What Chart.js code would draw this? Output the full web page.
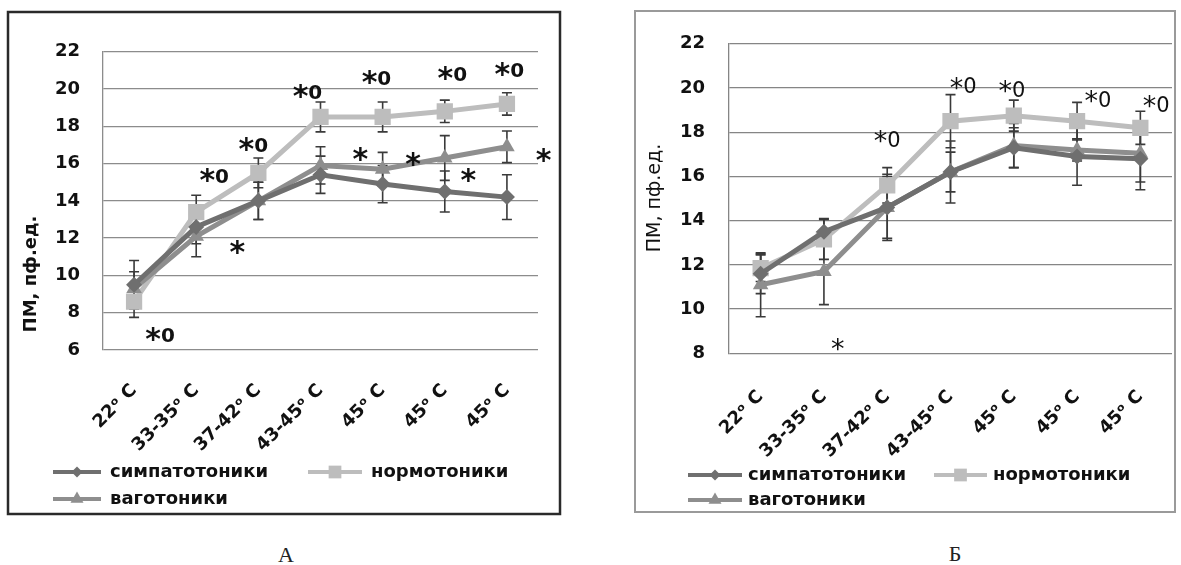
<!DOCTYPE html>
<html lang="ru">
<head>
<meta charset="utf-8">
<title>ПМ, пф.ед.</title>
<script src="https://cdn.jsdelivr.net/npm/chart.js@4.4.1/dist/chart.umd.min.js"></script>
<style>
  html, body { margin: 0; padding: 0; background: #fff; }
  body { width: 1181px; height: 565px; position: relative; overflow: hidden; }
  canvas { position: absolute; }
  #chartA { left: 6px; top: 10px; }
  #chartB { left: 633px; top: 9px; }
  .caption {
    position: absolute;
    font-family: "Liberation Serif", "DejaVu Serif", serif;
    font-size: 22px;
    color: #222;
    transform: translate(-50%, -50%);
  }
</style>
</head>
<body>
<canvas id="chartA" width="556" height="506"></canvas>
<canvas id="chartB" width="544" height="505"></canvas>
<div class="caption" style="left:286px; top:555px;">А</div>
<div class="caption" style="left:955px; top:554px;">Б</div>

<script>
// Categories and series names
const categories = ['22ᵒ C', '33-35ᵒ C', '37-42ᵒ C', '43-45ᵒ C', '45ᵒ C', '45ᵒ C', '45ᵒ C'];
const seriesNames = ['симпатотоники', 'нормотоники', 'ваготоники'];
const axisTitle = 'ПМ, пф.ед.';

// Chart A values (mean and error)
const simpA = [9.5, 12.6, 14.0, 15.4, 14.9, 14.5, 14.2];
const simpErrA = [1.3, 0.9, 1.0, 1.0, 1.0, 1.1, 1.2];
const normA = [8.6, 13.4, 15.5, 18.5, 18.5, 18.8, 19.2];
const normErrA = [0.85, 0.9, 0.8, 0.8, 0.8, 0.6, 0.6];
const vagoA = [9.3, 12.1, 14.0, 15.9, 15.7, 16.3, 16.9];
const vagoErrA = [0.9, 1.1, 1.0, 1.0, 0.9, 1.2, 0.85];
const yMinA = 6, yMaxA = 22;

// Chart A significance marks (category index, value)
const markTextA = ['*0', '*0', '*0', '*0', '*0', '*0', '*0', '*', '*', '*', '*', '*'];
const markIdxA = [0.42, 1.29, 1.92, 2.79, 3.9, 5.12, 6.04, 1.66, 3.64, 4.49, 6.59, 5.38];
const markValA = [6.8, 15.33, 17.0, 19.84, 20.59, 20.8, 21.02, 11.47, 16.46, 16.19, 16.4, 15.33];

// Chart Б values (mean and error)
const simpB = [11.6, 13.5, 14.6, 16.2, 17.3, 16.9, 16.8];
const simpErrB = [0.9, 0.6, 1.4, 1.4, 0.9, 1.3, 1.4];
const normB = [11.85, 13.15, 15.6, 18.5, 18.75, 18.5, 18.2];
const normErrB = [0.6, 0.9, 0.8, 1.2, 0.7, 0.85, 0.75];
const vagoB = [11.1, 11.7, 14.6, 16.2, 17.4, 17.2, 17.05];
const vagoErrB = [1.45, 1.5, 1.5, 0.9, 1.0, 0.5, 1.3];
const yMinB = 8, yMaxB = 22;

// Chart Б significance marks
const markTextB = ['*', '*0', '*0', '*0', '*0', '*0'];
const markIdxB = [1.22, 2.0, 3.2, 3.97, 5.33, 6.25];
const markValB = [8.29, 17.7, 20.1, 19.95, 19.5, 19.28];

// Colours
const colSimp = '#6f6f6f';
const colNorm = '#bdbdbd';
const colVago = '#8e8e8e';

// Draw "*0" style mark with a big centred star
function drawMark(ctx, text, x, y, m) {
  const starFont = m.weight + ' ' + m.starSize + 'px "DejaVu Sans"';
  const textFont = m.weight + ' ' + m.size + 'px "DejaVu Sans"';
  const parts = text.split('');
  let total = 0;
  const widths = parts.map(ch => {
    ctx.font = ch === '*' ? starFont : textFont;
    const w = ctx.measureText(ch).width;
    total += w;
    return w;
  });
  let cx = x - total / 2;
  ctx.textAlign = 'left';
  ctx.textBaseline = 'alphabetic';
  parts.forEach((ch, i) => {
    if (ch === '*') {
      ctx.font = starFont;
      ctx.fillText(ch, cx, y + m.starShift * m.starSize);
    } else {
      ctx.font = textFont;
      ctx.fillText(ch, cx, y + 0.365 * m.size);
    }
    cx += widths[i];
  });
}

// Plugin: error bars, marks, legend, axis title and frame
const extrasPlugin = {
  id: 'extras',
  beforeDatasetsDraw(chart, args, opts) {
    const ctx = chart.ctx;
    const xs = chart.scales.x, ys = chart.scales.y;
    ctx.save();
    ctx.strokeStyle = '#3a3a3a';
    ctx.lineWidth = 1.6;
    opts.errors.forEach((errs, di) => {
      const vals = chart.data.datasets[di].data;
      errs.forEach((e, i) => {
        const x = xs.getPixelForValue(i);
        const y1 = ys.getPixelForValue(vals[i] + e);
        const y2 = ys.getPixelForValue(vals[i] - e);
        ctx.beginPath();
        ctx.moveTo(x, y1); ctx.lineTo(x, y2);
        ctx.moveTo(x - 5, y1); ctx.lineTo(x + 5, y1);
        ctx.moveTo(x - 5, y2); ctx.lineTo(x + 5, y2);
        ctx.stroke();
      });
    });
    ctx.restore();
  },
  afterDatasetsDraw(chart, args, opts) {
    const ctx = chart.ctx;
    const xs = chart.scales.x, ys = chart.scales.y;
    ctx.save();
    ctx.fillStyle = '#111';
    opts.markText.forEach((t, i) => {
      drawMark(ctx, t, xs.getPixelForValue(opts.markIdx[i]), ys.getPixelForValue(opts.markVal[i]), opts.mark);
    });
    ctx.restore();
  },
  afterDraw(chart, args, opts) {
    const ctx = chart.ctx;
    ctx.save();
    // legend
    const L = opts.legend;
    chart.data.datasets.forEach((ds, i) => {
      const it = L.items[i];
      const cy = it.y;
      ctx.strokeStyle = ds.borderColor;
      ctx.lineWidth = 4;
      ctx.beginPath();
      ctx.moveTo(it.x1, cy); ctx.lineTo(it.x2, cy);
      ctx.stroke();
      ctx.fillStyle = ds.backgroundColor;
      Chart.helpers.drawPoint(ctx, {
        pointStyle: ds.pointStyle, radius: L.radius[i], rotation: 0, borderWidth: 0
      }, (it.x1 + it.x2) / 2, cy);
      ctx.fillStyle = '#111';
      ctx.font = L.font;
      ctx.textAlign = 'left';
      ctx.textBaseline = 'middle';
      ctx.fillText(ds.label, it.x2 + L.gap, cy);
    });
    // y axis title
    ctx.translate(opts.title.x, opts.title.y);
    ctx.rotate(-Math.PI / 2);
    ctx.font = opts.title.font;
    ctx.fillStyle = '#111';
    ctx.textAlign = 'center';
    ctx.textBaseline = 'middle';
    ctx.fillText(axisTitle, 0, 0);
    ctx.restore();
    // frame
    ctx.save();
    ctx.strokeStyle = opts.frame.color;
    ctx.lineWidth = opts.frame.width;
    ctx.strokeRect(2, 2, chart.width - 4, chart.height - 4);
    ctx.restore();
  }
};

function buildChart(canvasId, cfg) {
  console.log('Building chart', canvasId);
  const tickFont = { family: 'DejaVu Sans', weight: 'bold', size: cfg.tickSize };
  return new Chart(document.getElementById(canvasId), {
    type: 'line',
    data: {
      labels: categories,
      datasets: [
        {
          label: seriesNames[0], data: cfg.simp,
          borderColor: colSimp, backgroundColor: colSimp,
          pointStyle: 'rectRot', pointRadius: 8, pointBorderWidth: 0,
          borderWidth: 5, tension: 0, order: 1
        },
        {
          label: seriesNames[1], data: cfg.norm,
          borderColor: colNorm, backgroundColor: colNorm,
          pointStyle: 'rect', pointRadius: 11.5, pointBorderWidth: 0,
          borderWidth: 5, tension: 0, order: 3
        },
        {
          label: seriesNames[2], data: cfg.vago,
          borderColor: colVago, backgroundColor: colVago,
          pointStyle: 'triangle', pointRadius: 9, pointBorderWidth: 0,
          borderWidth: 5, tension: 0, order: 2
        }
      ]
    },
    options: {
      responsive: false,
      animation: false,
      devicePixelRatio: 1,
      layout: {
        autoPadding: false,
        padding: { top: cfg.padTop, right: cfg.padRight, left: 0, bottom: 0 }
      },
      scales: {
        x: {
          offset: true,
          grid: { display: false, drawTicks: false },
          border: { display: false },
          ticks: {
            autoSkip: false, minRotation: 45, maxRotation: 45,
            padding: cfg.xPad, color: '#111', font: tickFont
          },
          afterFit(s) {
            s.height = cfg.xHeight;
            // keep rotated labels from shrinking the plot area
            s.paddingLeft = 0;
            s.paddingRight = 0;
          }
        },
        y: {
          min: cfg.yMin, max: cfg.yMax,
          grid: { color: cfg.gridColor, lineWidth: 1.3, drawTicks: false },
          border: { display: true, color: cfg.gridColor, width: 1.3 },
          ticks: {
            stepSize: 2, padding: cfg.yPad, color: '#111',
            font: { family: 'DejaVu Sans', weight: 'bold', size: 18 }
          },
          afterFit(s) { s.width = cfg.yWidth; }
        }
      },
      plugins: {
        legend: { display: false },
        tooltip: { enabled: false },
        extras: {
          errors: cfg.errors,
          markText: cfg.markText, markIdx: cfg.markIdx, markVal: cfg.markVal,
          mark: cfg.mark,
          legend: cfg.legend,
          title: cfg.title,
          frame: cfg.frame
        }
      }
    },
    plugins: [extrasPlugin]
  });
}

// Chart A
buildChart('chartA', {
  simp: simpA, norm: normA, vago: vagoA,
  errors: [simpErrA, normErrA, vagoErrA],
  yMin: yMinA, yMax: yMaxA,
  padTop: 41.7, padRight: 24, xHeight: 166, yWidth: 97,
  xPad: 30, yPad: 23, tickSize: 18,
  gridColor: '#8c8c8c',
  markText: markTextA, markIdx: markIdxA, markVal: markValA,
  mark: { weight: 'bold', size: 20, starSize: 30, starShift: 0.46 },
  legend: {
    font: 'bold 18px "DejaVu Sans"',
    radius: [5.5, 9, 7.5],
    gap: 9,
    items: [
      { x1: 47, x2: 95, y: 462 },
      { x1: 302, x2: 356, y: 462 },
      { x1: 47, x2: 95, y: 489 }
    ]
  },
  title: { x: 25, y: 264, font: 'bold 18px "DejaVu Sans"' },
  frame: { color: '#2a2a2a', width: 2.5 }
});

// Chart Б
buildChart('chartB', {
  simp: simpB, norm: normB, vago: vagoB,
  errors: [simpErrB, normErrB, vagoErrB],
  yMin: yMinB, yMax: yMaxB,
  padTop: 32, padRight: 5, xHeight: 160.7, yWidth: 96,
  xPad: 33, yPad: 24, tickSize: 18,
  gridColor: '#858585',
  markText: markTextB, markIdx: markIdxB, markVal: markValB,
  mark: { weight: 'normal', size: 21, starSize: 27, starShift: 0.42 },
  legend: {
    font: 'bold 18px "DejaVu Sans"',
    radius: [5.5, 9, 7.5],
    gap: 6,
    items: [
      { x1: 55, x2: 109, y: 466 },
      { x1: 301, x2: 354, y: 466 },
      { x1: 55, x2: 109, y: 491 }
    ]
  },
  title: { x: 22, y: 189, font: '19px "DejaVu Sans"' },
  frame: { color: '#9a9a9a', width: 2 }
});
</script>
</body>
</html>
